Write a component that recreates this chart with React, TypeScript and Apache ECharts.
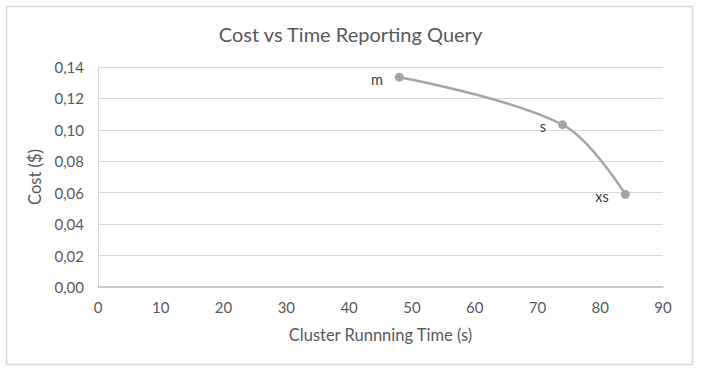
import React, { useEffect, useRef } from "react";
import * as echarts from "echarts";

const pointNames = ["m", "s", "xs"];
const runningTime = [48, 74, 84];
const cost = [0.1335, 0.1033, 0.059];

const FONT = "Lato, 'Open Sans', sans-serif";
const TEXT = "#595959";

export default function App() {
  const ref = useRef<HTMLDivElement>(null);
  useEffect(() => {
    if (!ref.current) return;
    const chart = echarts.init(ref.current, undefined, { renderer: "svg" });
    const data = runningTime.map((t, i) => ({ value: [t, cost[i]], name: pointNames[i] }));
    chart.setOption({
      animation: false,
      backgroundColor: "#ffffff",
      textStyle: { fontFamily: FONT },
      title: {
        text: "Cost vs Time Reporting Query",
        left: "center",
        top: 19,
        textStyle: { fontFamily: FONT, fontSize: 20, fontWeight: "normal", color: TEXT },
      },
      graphic: [
        {
          type: "rect",
          shape: { x: 6.5, y: 6.5, width: 686, height: 358 },
          style: { fill: "none", stroke: "#d9d9d9", lineWidth: 1.5 },
          silent: true,
        },
      ],
      grid: { left: 98, right: 38, top: 67, bottom: 87 },
      xAxis: {
        type: "value",
        min: 0,
        max: 90,
        interval: 10,
        name: "Cluster Runnning Time (s)",
        nameLocation: "middle",
        nameGap: 39,
        nameTextStyle: { fontFamily: FONT, fontSize: 16.5, color: TEXT },
        axisLine: { show: true, lineStyle: { color: "#bfbfbf", width: 1.5 } },
        axisTick: { show: false },
        splitLine: { show: false },
        axisLabel: { fontFamily: FONT, fontSize: 15, color: TEXT, margin: 12 },
      },
      yAxis: {
        type: "value",
        min: 0,
        max: 0.14,
        interval: 0.02,
        name: "Cost ($)",
        nameLocation: "middle",
        nameGap: 47,
        nameTextStyle: { fontFamily: FONT, fontSize: 16.5, color: TEXT },
        axisLine: { show: true, lineStyle: { color: "#d9d9d9", width: 1 } },
        axisTick: { show: false },
        splitLine: { show: true, lineStyle: { color: "#d9d9d9", width: 1.2 } },
        axisLabel: {
          fontFamily: FONT,
          fontSize: 15,
          color: TEXT,
          margin: 14,
          formatter: (v: number) => v.toFixed(2).replace(".", ","),
        },
      },
      series: [
        {
          type: "line",
          data,
          smooth: 0.35,
          symbol: "circle",
          symbolSize: 9,
          lineStyle: { color: "#a5a5a5", width: 2.5 },
          itemStyle: { color: "#a5a5a5" },
          label: {
            show: true,
            position: "left",
            distance: 12,
            formatter: (p: any) => p.name,
            fontFamily: FONT,
            fontSize: 14.5,
            color: "#404040",
            offset: [0, 2],
          },
        },
      ],
    });
    return () => chart.dispose();
  }, []);
  return (
    <div
      ref={ref}
      style={{ position: "fixed", left: 0, top: 0, width: 701, height: 374, background: "#fff" }}
    />
  );
}
